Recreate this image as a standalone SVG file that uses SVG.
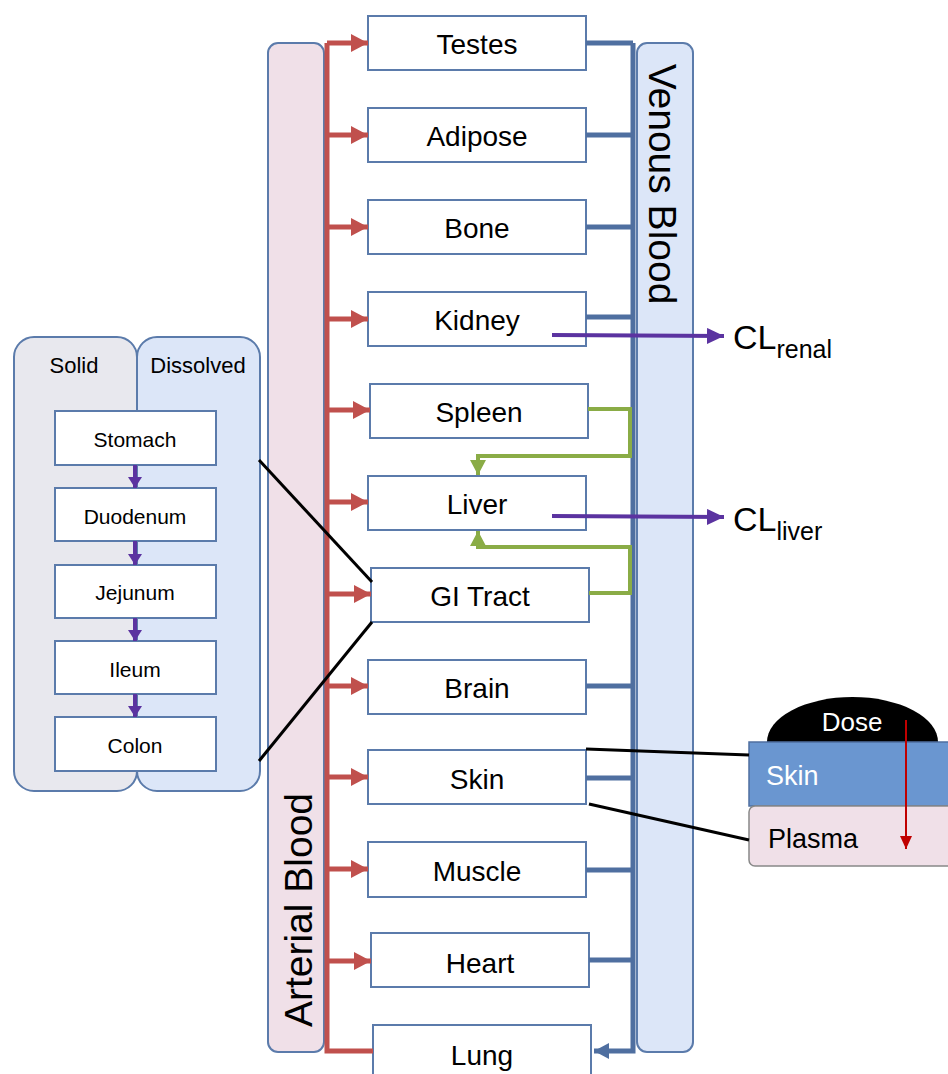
<svg xmlns="http://www.w3.org/2000/svg" width="948" height="1074" viewBox="0 0 948 1074">
<style>
text{font-family:"Liberation Sans",Arial,sans-serif;fill:#000}
.box{fill:#fff;stroke:#5b7bab;stroke-width:2}
.lbl{font-size:28px;text-anchor:middle;dominant-baseline:central}
.sm{font-size:21px;text-anchor:middle;dominant-baseline:central}
.hd{font-size:22px;text-anchor:middle;dominant-baseline:central}
.red{stroke:#c0504d;stroke-width:5;fill:none}
.blue{stroke:#4f6fa0;stroke-width:5;fill:none}
.green{stroke:#8aac46;stroke-width:4;fill:none}
.purple{stroke:#5b33a0;stroke-width:4;fill:none}
.blk{stroke:#000;stroke-width:3;fill:none}
</style>
<defs>
<marker id="ar" markerUnits="userSpaceOnUse" markerWidth="18" markerHeight="18" refX="17" refY="9" orient="auto"><path d="M0,0 L17,9 L0,18 z" fill="#c0504d"/></marker>
<marker id="ab" markerUnits="userSpaceOnUse" markerWidth="16" markerHeight="16" refX="15" refY="8" orient="auto"><path d="M0,0 L15,8 L0,16 z" fill="#4f6fa0"/></marker>
<marker id="ag" markerUnits="userSpaceOnUse" markerWidth="16" markerHeight="16" refX="15" refY="8" orient="auto"><path d="M0,0 L15,8 L0,16 z" fill="#8aac46"/></marker>
<marker id="ap" markerUnits="userSpaceOnUse" markerWidth="18" markerHeight="16" refX="17" refY="8" orient="auto"><path d="M0,0 L17,8 L0,16 z" fill="#5b33a0"/></marker>
<marker id="aps" markerUnits="userSpaceOnUse" markerWidth="12" markerHeight="14" refX="11" refY="7" orient="auto"><path d="M0,0 L11,7 L0,14 z" fill="#5b33a0"/></marker>
<marker id="ad" markerUnits="userSpaceOnUse" markerWidth="14" markerHeight="12" refX="13" refY="6" orient="auto"><path d="M0,0 L13,6 L0,12 z" fill="#c00000"/></marker>
</defs>

<!-- Blood panels -->
<g id="arterial">
<rect x="268" y="43" width="56" height="1009" rx="10" fill="#f0e0e8" stroke="#5b7bab" stroke-width="2"/>
<text x="0" y="0" font-size="39" text-anchor="middle" dominant-baseline="central" transform="translate(298,910) rotate(-90)">Arterial Blood</text>
</g>
<g id="venous">
<rect x="637" y="43" width="56" height="1009" rx="10" fill="#dce6f8" stroke="#5b7bab" stroke-width="2"/>
<text x="0" y="0" font-size="39" text-anchor="middle" dominant-baseline="central" transform="translate(662,184) rotate(90)">Venous Blood</text>
</g>

<!-- GI panel -->
<g id="gi-panel">
<rect x="14" y="337" width="123" height="454" rx="20" fill="#e8e8ee" stroke="#5b7bab" stroke-width="2"/>
<rect x="137" y="337" width="123" height="454" rx="20" fill="#dce6f8" stroke="#5b7bab" stroke-width="2"/>
<text x="74" y="365" class="hd">Solid</text>
<text x="198" y="365" class="hd">Dissolved</text>
</g>
<g id="stomach"><rect class="box" x="55" y="411" width="161" height="54"/><text x="135" y="439" class="sm">Stomach</text></g>
<g id="duodenum"><rect class="box" x="55" y="488" width="161" height="53"/><text x="135" y="516" class="sm">Duodenum</text></g>
<g id="jejunum"><rect class="box" x="55" y="565" width="161" height="53"/><text x="135" y="592" class="sm">Jejunum</text></g>
<g id="ileum"><rect class="box" x="55" y="641" width="161" height="53"/><text x="135" y="669" class="sm">Ileum</text></g>
<g id="colon"><rect class="box" x="55" y="717" width="161" height="54"/><text x="135" y="745" class="sm">Colon</text></g>

<!-- Organ boxes -->
<g id="testes"><rect class="box" x="368" y="16" width="218" height="54"/><text x="477" y="44" class="lbl">Testes</text></g>
<g id="adipose"><rect class="box" x="368" y="108" width="218" height="54"/><text x="477" y="136" class="lbl">Adipose</text></g>
<g id="bone"><rect class="box" x="368" y="200" width="218" height="54"/><text x="477" y="228" class="lbl">Bone</text></g>
<g id="kidney"><rect class="box" x="368" y="292" width="218" height="54"/><text x="477" y="320" class="lbl">Kidney</text></g>
<g id="spleen"><rect class="box" x="370" y="384" width="218" height="54"/><text x="479" y="412" class="lbl">Spleen</text></g>
<g id="liver"><rect class="box" x="368" y="476" width="218" height="54"/><text x="477" y="504" class="lbl">Liver</text></g>
<g id="gitract"><rect class="box" x="371" y="568" width="218" height="54"/><text x="480" y="596" class="lbl">GI Tract</text></g>
<g id="brain"><rect class="box" x="368" y="660" width="218" height="54"/><text x="477" y="688" class="lbl">Brain</text></g>
<g id="skin"><rect class="box" x="368" y="750" width="218" height="54"/><text x="477" y="779" class="lbl">Skin</text></g>
<g id="muscle"><rect class="box" x="368" y="842" width="218" height="55"/><text x="477" y="871" class="lbl">Muscle</text></g>
<g id="heart"><rect class="box" x="371" y="933" width="218" height="54"/><text x="480" y="963" class="lbl">Heart</text></g>
<g id="lung"><rect class="box" x="373" y="1025" width="218" height="60"/><text x="482" y="1055" class="lbl">Lung</text></g>

<!-- Skin model -->
<g id="skin-model">
<path d="M767,742 A85.5,45 0 0 1 938,742 Z" fill="#000"/>
<text x="852" y="722" font-size="26" text-anchor="middle" dominant-baseline="central" style="fill:#fff">Dose</text>
<rect x="749" y="742" width="210" height="64" fill="#6a96d0" stroke="#4f6fa0" stroke-width="1.5"/>
<text x="766" y="776" font-size="27" dominant-baseline="central" style="fill:#fff">Skin</text>
<rect x="749" y="806" width="210" height="60" rx="6" fill="#f0e0e8" stroke="#888" stroke-width="1.5"/>
<text x="768" y="839" font-size="27" dominant-baseline="central">Plasma</text>
<line x1="906" y1="720" x2="906" y2="849" stroke="#c00000" stroke-width="2" marker-end="url(#ad)"/>
</g>

<!-- Clearance labels -->
<g id="cl-renal"><text x="733" y="349" font-size="34">CL<tspan font-size="25" dy="9">renal</tspan></text></g>
<g id="cl-liver"><text x="733" y="531" font-size="34">CL<tspan font-size="25" dy="9">liver</tspan></text></g>

<!-- Connectors -->
<g id="connectors">
<path class="red" d="M327,43 V1051 H373"/>
<line class="red" x1="327" y1="43" x2="368" y2="43" marker-end="url(#ar)"/>
<line class="red" x1="327" y1="135" x2="368" y2="135" marker-end="url(#ar)"/>
<line class="red" x1="327" y1="227" x2="368" y2="227" marker-end="url(#ar)"/>
<line class="red" x1="327" y1="319" x2="368" y2="319" marker-end="url(#ar)"/>
<line class="red" x1="327" y1="410" x2="370" y2="410" marker-end="url(#ar)"/>
<line class="red" x1="327" y1="502" x2="368" y2="502" marker-end="url(#ar)"/>
<line class="red" x1="327" y1="594" x2="371" y2="594" marker-end="url(#ar)"/>
<line class="red" x1="327" y1="686" x2="368" y2="686" marker-end="url(#ar)"/>
<line class="red" x1="327" y1="777" x2="368" y2="777" marker-end="url(#ar)"/>
<line class="red" x1="327" y1="869" x2="368" y2="869" marker-end="url(#ar)"/>
<line class="red" x1="327" y1="961" x2="371" y2="961" marker-end="url(#ar)"/>
<path class="blue" d="M633,43 V1051 H594" marker-end="url(#ab)"/>
<line class="blue" x1="586" y1="43" x2="633" y2="43"/>
<line class="blue" x1="586" y1="135" x2="633" y2="135"/>
<line class="blue" x1="586" y1="227" x2="633" y2="227"/>
<line class="blue" x1="586" y1="317" x2="633" y2="317"/>
<line class="blue" x1="586" y1="686" x2="633" y2="686"/>
<line class="blue" x1="586" y1="778" x2="633" y2="778"/>
<line class="blue" x1="586" y1="870" x2="633" y2="870"/>
<line class="blue" x1="589" y1="960" x2="633" y2="960"/>
<path class="green" d="M588,409 H630 V456 H478 V475" marker-end="url(#ag)"/>
<path class="green" d="M589,593 H630 V547 H478 V531" marker-end="url(#ag)"/>
<line class="purple" x1="552" y1="335" x2="724" y2="336" marker-end="url(#ap)"/>
<line class="purple" x1="552" y1="516" x2="724" y2="517" marker-end="url(#ap)"/>
<line class="purple" x1="135" y1="465" x2="135" y2="488" stroke-width="2.5" marker-end="url(#aps)"/>
<line class="purple" x1="135" y1="541" x2="135" y2="565" stroke-width="2.5" marker-end="url(#aps)"/>
<line class="purple" x1="135" y1="618" x2="135" y2="641" stroke-width="2.5" marker-end="url(#aps)"/>
<line class="purple" x1="135" y1="694" x2="135" y2="717" stroke-width="2.5" marker-end="url(#aps)"/>
<line class="blk" x1="259" y1="460" x2="372" y2="582"/>
<line class="blk" x1="259" y1="761" x2="372" y2="622"/>
<line class="blk" x1="586" y1="749" x2="749" y2="755"/>
<line class="blk" x1="589" y1="804" x2="749" y2="840"/>
</g>
</svg>
